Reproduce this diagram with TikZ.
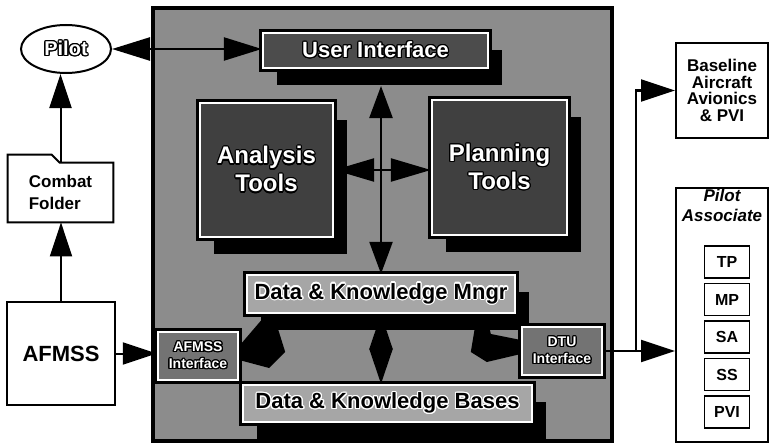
\documentclass[tikz,border=0pt]{standalone}
\usepackage{fontspec}
\setmainfont{Liberation Sans}
\usepackage{contour}
\usetikzlibrary{arrows.meta}
\usetikzlibrary{shapes.geometric}
\usetikzlibrary{shadows}
\contourlength{0.6pt}
\newcommand{\hollow}[1]{\textcolor{white}{\contour{black}{#1}}}
\newcommand{\halo}[1]{\contour{white}{#1}}
\tikzset{box/.style = {draw, line width = 1pt, fill = white, align = center, inner sep = 0, font = \bfseries}}
\tikzset{panel/.style = {draw = white, line width = 1.2pt, preaction = {draw = black, line width = 4pt}, align = center, inner sep = 0}}
\tikzset{shade/.style = {drop shadow = {shadow xshift = 7pt, shadow yshift = -8.5pt, fill = black, opacity = 1}}}
\tikzset{big/.style = {-{Triangle[length = 17pt, width = 11pt]}, line width = 1pt}}
\tikzset{bigboth/.style = {{Triangle[length = #1, width = 11.5pt]}-{Triangle[length = #1, width = 11.5pt]}, line width = 1.2pt}}

\begin{document}
\begin{tikzpicture}[x = 0.5pt, y = -0.5pt]
    \useasboundingbox (0,0) rectangle (769,444);
    % outside the workstation
    \node [box, ellipse, minimum width = 45pt, minimum height = 24pt, font = \bfseries\fontsize{10}{12}\selectfont] (pilot) at (66,49) {\hollow{Pilot}};
    \node [inner sep = 0, minimum width = 52.5pt, minimum height = 29.5pt, align = left, font = \bfseries\fontsize{8.5}{11}\selectfont] (folder) at (60.5,192.5) {Combat\\Folder};
    \draw [line width = 1pt] (folder.south west) -- (folder.north west) -- ++(0,-8) -- ++(44,0) -- ++(8,8) -- (folder.north east) -- (folder.south east) -- cycle;
    \node [box, minimum width = 54pt, minimum height = 51.5pt, font = \bfseries\fontsize{11}{13}\selectfont] (afmss) at (61,353.5) {AFMSS};
    \draw [big] (afmss.north) -- (afmss.north |- folder.south);
    \draw [big] (folder.north) -- (folder.north |- pilot.south);

    % workstation
    \draw [line width = 1.8pt, fill = black!45] (153,8) rectangle (612,441);
    \node [panel, shade, fill = black!70, minimum width = 112.5pt, minimum height = 17.5pt, font = \bfseries\fontsize{11}{13}\selectfont] (ui) at (375.5,50.5) {\hollow{User Interface}};
    \node [panel, shade, fill = black!75, minimum width = 66.5pt, minimum height = 67pt, font = \bfseries\fontsize{12}{14}\selectfont] (analysis) at (266.5,170) {\hollow{Analysis}\\\hollow{Tools}};
    \node [panel, shade, fill = black!75, minimum width = 67.5pt, minimum height = 67.5pt, font = \bfseries\fontsize{12}{14}\selectfont] (planning) at (499.5,167.5) {\hollow{Planning}\\\hollow{Tools}};
    \node [panel, shade, fill = black!35, minimum width = 134pt, minimum height = 19pt, font = \bfseries\fontsize{11}{13}\selectfont] (dkm) at (381,294) {\halo{Data \& Knowledge Mngr}};
    \node [panel, shade, fill = black!35, minimum width = 144.5pt, minimum height = 18.5pt, font = \bfseries\fontsize{11}{13}\selectfont] (dkb) at (387.5,403.5) {\halo{Data \& Knowledge Bases}};
    \node [panel, fill = black!55, minimum width = 40pt, minimum height = 24pt, font = \bfseries\fontsize{7}{8.5}\selectfont] (ifl) at (198,356) {\hollow{AFMSS}\\\hollow{Interface}};
    \node [panel, fill = black!55, minimum width = 40pt, minimum height = 24pt, font = \bfseries\fontsize{7}{8.5}\selectfont] (dtu) at (562,351) {\hollow{DTU}\\\hollow{Interface}};
    \coordinate (uibot) at (381,86);

    \draw [bigboth = 19pt] (pilot.east) -- (pilot.east -| ui.west);
    \draw [bigboth = 20pt] (analysis.east) -- (analysis.east -| planning.west);
    \draw [bigboth = 16pt] (uibot) -- (dkm.north);
    \draw [bigboth = 17.5pt] (dkm.south) -- (dkm.south |- dkb.north);
    \draw [big] (afmss.east) -- (afmss.east -| ifl.west);
    \fill (ifl.east) ++(0,-10) -- ++(24,-28) -- ++(12,2) -- ++(10,32) -- ++(-16,16) -- ++(-30,-8) -- cycle;
    \fill (dtu.west) ++(0,-11) -- ++(-30,-6) -- ++(-4,-18) -- ++(-10,0) -- ++(-6,36) -- ++(16,10) -- ++(34,-8) -- cycle;

    % aircraft side
    \node [box, minimum width = 46pt, minimum height = 47.5pt, font = \bfseries\fontsize{8.5}{8.3}\selectfont] (base) at (722,90.5) {Baseline\\Aircraft\\Avionics\\\& PVI};
    \node [box, minimum width = 46pt, minimum height = 127pt] (pa) at (722,315) {};
    \node [anchor = north, align = center, inner sep = 1pt, font = \bfseries\itshape\fontsize{8.5}{10}\selectfont] (patitle) at (pa.north) {Pilot\\Associate};
    \foreach \n [count = \i] in {TP,MP,SA,SS,PVI}
        \node [box, line width = 0.8pt, minimum width = 22.5pt, minimum height = 16pt, font = \bfseries\fontsize{8}{9}\selectfont] (\n) at (727,{262+37.5*(\i-1)}) {\n};
    \draw [big] (dtu.east) -- (dtu.east -| pa.west);
    \draw [big] (dtu.east) -- ++(33,0) |- (base.west);
\end{tikzpicture}
\end{document}
